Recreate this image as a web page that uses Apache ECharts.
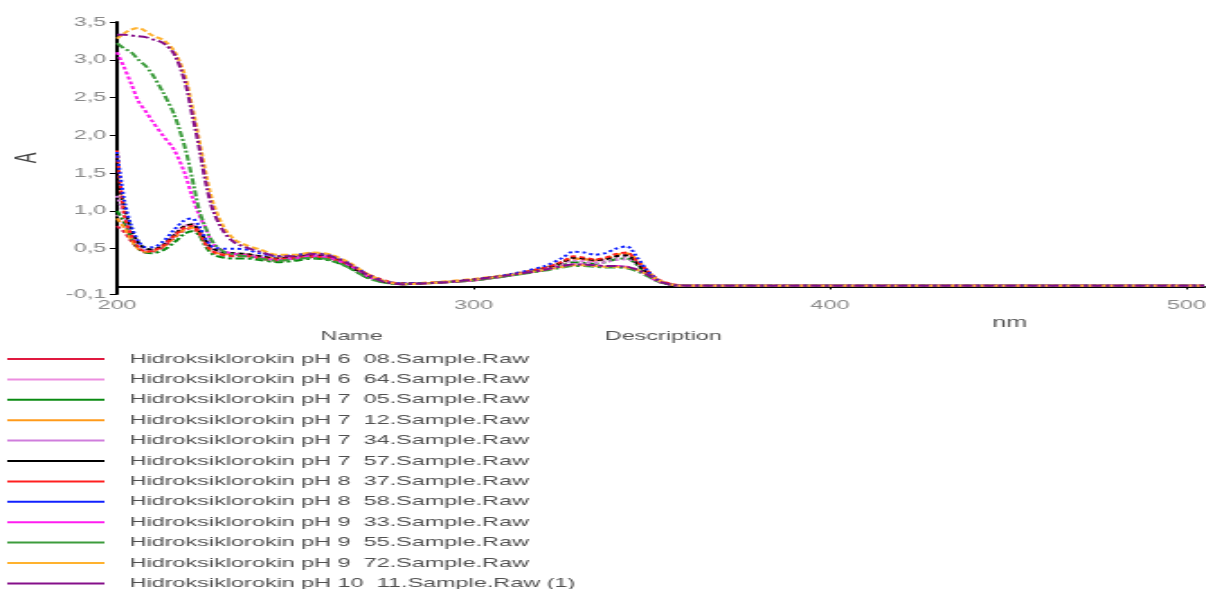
<!DOCTYPE html>
<html>
<head>
<meta charset="utf-8">
<script src="https://cdn.jsdelivr.net/npm/echarts@6/dist/echarts.min.js"></script>
<style>
  html, body { margin: 0; padding: 0; background: #fff; overflow: hidden; }
  /* the source picture is stretched sideways, so draw narrow and stretch */
  #main { width: 670px; height: 589px; transform: scaleX(1.8); transform-origin: 0 0; }
</style>
</head>
<body>
<div id="main"></div>
<script>
// wavelength (nm)
var wl = [200, 202, 204, 206, 208, 210, 213, 216, 219, 221, 223, 225, 227, 230, 233, 236, 240, 245, 250, 255,
  260, 265, 270, 275, 280, 290, 300, 310, 320, 325, 328, 331, 334, 337, 340, 343, 346, 349, 352, 356,
  360, 380, 420, 460, 505];

var names = [
  'Hidroksiklorokin pH 6  08.Sample.Raw',
  'Hidroksiklorokin pH 6  64.Sample.Raw',
  'Hidroksiklorokin pH 7  05.Sample.Raw',
  'Hidroksiklorokin pH 7  12.Sample.Raw',
  'Hidroksiklorokin pH 7  34.Sample.Raw',
  'Hidroksiklorokin pH 7  57.Sample.Raw',
  'Hidroksiklorokin pH 8  37.Sample.Raw',
  'Hidroksiklorokin pH 8  58.Sample.Raw',
  'Hidroksiklorokin pH 9  33.Sample.Raw',
  'Hidroksiklorokin pH 9  55.Sample.Raw',
  'Hidroksiklorokin pH 9  72.Sample.Raw',
  'Hidroksiklorokin pH 10  11.Sample.Raw (1)'
];

// absorbance per sample, same order as names
var ph6_08 = [0.80, 0.72, 0.60, 0.50, 0.45, 0.46, 0.52, 0.64, 0.75, 0.77, 0.70, 0.55, 0.45, 0.41, 0.40, 0.40, 0.37, 0.34, 0.37, 0.39,
  0.36, 0.27, 0.15, 0.06, 0.03, 0.05, 0.08, 0.15, 0.24, 0.31, 0.37, 0.36, 0.34, 0.36, 0.41, 0.43, 0.31, 0.17, 0.07, 0.02,
  0.01, 0.01, 0.01, 0.01, 0.01];
var ph6_64 = [0.95, 0.82, 0.65, 0.52, 0.47, 0.48, 0.55, 0.68, 0.80, 0.82, 0.75, 0.58, 0.48, 0.44, 0.43, 0.42, 0.39, 0.36, 0.38, 0.42,
  0.39, 0.30, 0.16, 0.06, 0.03, 0.05, 0.08, 0.15, 0.24, 0.30, 0.35, 0.34, 0.33, 0.34, 0.38, 0.39, 0.29, 0.16, 0.07, 0.02,
  0.01, 0.01, 0.01, 0.01, 0.01];
var ph7_05 = [1.00, 0.85, 0.65, 0.50, 0.45, 0.44, 0.48, 0.58, 0.70, 0.73, 0.68, 0.52, 0.42, 0.38, 0.37, 0.37, 0.35, 0.32, 0.34, 0.37,
  0.34, 0.25, 0.12, 0.05, 0.03, 0.05, 0.08, 0.14, 0.22, 0.28, 0.32, 0.31, 0.30, 0.32, 0.36, 0.37, 0.28, 0.15, 0.06, 0.02,
  0.01, 0.01, 0.01, 0.01, 0.01];
var ph7_12 = [0.90, 0.78, 0.62, 0.50, 0.46, 0.47, 0.53, 0.65, 0.76, 0.78, 0.72, 0.56, 0.46, 0.43, 0.43, 0.43, 0.40, 0.38, 0.41, 0.44,
  0.40, 0.30, 0.16, 0.07, 0.04, 0.06, 0.10, 0.16, 0.25, 0.32, 0.37, 0.36, 0.35, 0.37, 0.42, 0.44, 0.35, 0.20, 0.08, 0.02,
  0.01, 0.01, 0.01, 0.01, 0.01];
var ph7_34 = [1.20, 0.95, 0.70, 0.55, 0.48, 0.48, 0.55, 0.68, 0.80, 0.83, 0.76, 0.60, 0.49, 0.45, 0.44, 0.43, 0.40, 0.37, 0.39, 0.42,
  0.39, 0.30, 0.16, 0.07, 0.04, 0.05, 0.09, 0.15, 0.24, 0.31, 0.34, 0.33, 0.31, 0.32, 0.35, 0.36, 0.30, 0.18, 0.08, 0.02,
  0.01, 0.01, 0.01, 0.01, 0.01];
var ph7_57 = [1.45, 1.05, 0.75, 0.58, 0.50, 0.49, 0.55, 0.68, 0.80, 0.82, 0.74, 0.60, 0.50, 0.45, 0.44, 0.43, 0.40, 0.37, 0.39, 0.41,
  0.38, 0.28, 0.14, 0.06, 0.04, 0.05, 0.09, 0.15, 0.24, 0.32, 0.38, 0.37, 0.35, 0.36, 0.40, 0.41, 0.30, 0.16, 0.07, 0.02,
  0.01, 0.01, 0.01, 0.01, 0.01];
var ph8_37 = [1.80, 0.95, 0.68, 0.52, 0.46, 0.47, 0.54, 0.67, 0.78, 0.80, 0.72, 0.55, 0.46, 0.42, 0.41, 0.41, 0.38, 0.36, 0.38, 0.40,
  0.37, 0.29, 0.17, 0.08, 0.04, 0.05, 0.09, 0.15, 0.25, 0.33, 0.40, 0.38, 0.36, 0.38, 0.43, 0.45, 0.33, 0.20, 0.09, 0.03,
  0.01, 0.01, 0.01, 0.01, 0.01];
var ph8_58 = [1.78, 1.15, 0.80, 0.60, 0.52, 0.52, 0.60, 0.75, 0.88, 0.90, 0.80, 0.62, 0.52, 0.50, 0.50, 0.49, 0.44, 0.40, 0.42, 0.44,
  0.41, 0.31, 0.17, 0.07, 0.04, 0.05, 0.09, 0.16, 0.27, 0.38, 0.46, 0.45, 0.42, 0.44, 0.50, 0.53, 0.38, 0.20, 0.08, 0.02,
  0.01, 0.01, 0.01, 0.01, 0.01];
var ph9_33 = [3.10, 2.90, 2.68, 2.45, 2.32, 2.18, 1.99, 1.81, 1.50, 1.20, 0.95, 0.76, 0.56, 0.47, 0.43, 0.41, 0.38, 0.35, 0.37, 0.40,
  0.37, 0.28, 0.14, 0.06, 0.03, 0.05, 0.08, 0.14, 0.22, 0.27, 0.29, 0.29, 0.28, 0.27, 0.27, 0.26, 0.22, 0.14, 0.06, 0.02,
  0.01, 0.01, 0.01, 0.01, 0.01];
var ph9_55 = [3.22, 3.15, 3.10, 3.00, 2.92, 2.80, 2.56, 2.28, 1.85, 1.45, 1.02, 0.76, 0.58, 0.46, 0.42, 0.40, 0.37, 0.34, 0.36, 0.38,
  0.35, 0.25, 0.12, 0.05, 0.03, 0.05, 0.08, 0.14, 0.21, 0.25, 0.27, 0.27, 0.26, 0.25, 0.25, 0.24, 0.20, 0.13, 0.06, 0.02,
  0.01, 0.01, 0.01, 0.01, 0.01];
var ph9_72 = [3.28, 3.35, 3.40, 3.42, 3.38, 3.32, 3.26, 3.12, 2.80, 2.40, 1.95, 1.48, 1.10, 0.78, 0.62, 0.55, 0.49, 0.42, 0.42, 0.45,
  0.42, 0.32, 0.17, 0.07, 0.03, 0.05, 0.09, 0.15, 0.22, 0.26, 0.28, 0.28, 0.27, 0.26, 0.26, 0.25, 0.22, 0.15, 0.08, 0.02,
  0.01, 0.01, 0.01, 0.01, 0.01];
var ph10_11 = [3.33, 3.33, 3.32, 3.31, 3.30, 3.27, 3.22, 3.08, 2.72, 2.30, 1.85, 1.35, 1.00, 0.72, 0.58, 0.52, 0.46, 0.40, 0.40, 0.43,
  0.40, 0.30, 0.16, 0.06, 0.03, 0.05, 0.09, 0.15, 0.22, 0.27, 0.29, 0.29, 0.28, 0.27, 0.27, 0.26, 0.22, 0.15, 0.07, 0.02,
  0.01, 0.01, 0.01, 0.01, 0.01];

var values = [ph6_08, ph6_64, ph7_05, ph7_12, ph7_34, ph7_57, ph8_37, ph8_58, ph9_33, ph9_55, ph9_72, ph10_11];

var colors = ['#e0193f', '#ec8ee0', '#0a8a12', '#ff9a1a', '#cf7ddc', '#000000',
  '#ff1f1f', '#1020ff', '#ff1cf0', '#3c9c3c', '#ffb22e', '#850f8a'];
var dashes = [[3, 2], [2, 2], [5, 2, 2, 2], [4, 2], [2, 2], [3, 2],
  [3, 2], [2, 2], [3, 2], [6, 2, 2, 2], [4, 2], [6, 2, 2, 2]];

// y ticks (the source uses a decimal comma)
var yTickValues = [-0.1, 0.5, 1.0, 1.5, 2.0, 2.5, 3.0, 3.5];
var yTickLabels = ['-0,1', '0,5', '1,0', '1,5', '2,0', '2,5', '3,0', '3,5'];
var xTickValues = [200, 300, 400, 500];

var chart = echarts.init(document.getElementById('main'));

var series = [];
for (var i = 0; i < names.length; i++) {
  var pts = [];
  for (var j = 0; j < wl.length; j++) {
    pts.push([wl[j], values[i][j]]);
  }
  series.push({
    name: names[i],
    type: 'line',
    data: pts,
    smooth: 0.3,
    showSymbol: false,
    color: colors[i],
    lineStyle: { width: 2, type: dashes[i] },
    emphasis: { disabled: true }
  });
}

var txtFont = '"Liberation Sans", Arial, sans-serif';

var option = {
  animation: false,
  backgroundColor: '#fff',
  grid: { left: 65, right: 1, top: 22, bottom: 295, containLabel: false, outerBoundsMode: 'none' },
  legend: {
    orient: 'vertical',
    left: 4,
    top: 349,
    height: 250,
    padding: 0,
    icon: 'rect',
    itemWidth: 54,
    itemHeight: 2,
    itemGap: 0.4,
    selectedMode: false,
    data: names,
    textStyle: {
      fontFamily: txtFont,
      fontSize: 13,
      lineHeight: 13,
      color: '#505050',
      padding: [0, 0, 7, 9]
    }
  },
  xAxis: {
    type: 'value',
    min: 200,
    max: 505,
    name: 'nm',
    nameLocation: 'middle',
    nameGap: 22,
    nameTextStyle: { fontFamily: txtFont, fontSize: 14, color: '#555', padding: [0, 0, 0, 388] },
    axisLine: { lineStyle: { color: '#000', width: 2 } },
    axisTick: { length: 3, lineStyle: { color: '#000' }, customValues: xTickValues },
    axisLabel: { customValues: xTickValues, margin: 5, fontFamily: txtFont, fontSize: 13, color: '#8a8a8a' },
    splitLine: { show: false }
  },
  yAxis: {
    type: 'value',
    min: -0.1,
    max: 3.5,
    name: 'A',
    nameLocation: 'middle',
    nameRotate: 90,
    nameGap: 41,
    nameTextStyle: { fontFamily: txtFont, fontSize: 16, color: '#444' },
    axisLine: { show: true, lineStyle: { color: '#000', width: 2 } },
    axisTick: { show: true, length: 4, lineStyle: { color: '#000' }, customValues: yTickValues },
    axisLabel: {
      customValues: yTickValues,
      margin: 6,
      fontFamily: txtFont,
      fontSize: 13,
      color: '#8a8a8a',
      formatter: function (v) {
        for (var k = 0; k < yTickValues.length; k++) {
          if (Math.abs(yTickValues[k] - v) < 1e-6) return yTickLabels[k];
        }
        return '';
      }
    },
    splitLine: { show: false }
  },
  graphic: [
    { type: 'text', left: 178, top: 330, style: { text: 'Name', font: '13px ' + txtFont, fill: '#555' } },
    { type: 'text', left: 336, top: 330, style: { text: 'Description', font: '13px ' + txtFont, fill: '#555' } }
  ],
  series: series
};

chart.setOption(option);
</script>
</body>
</html>
